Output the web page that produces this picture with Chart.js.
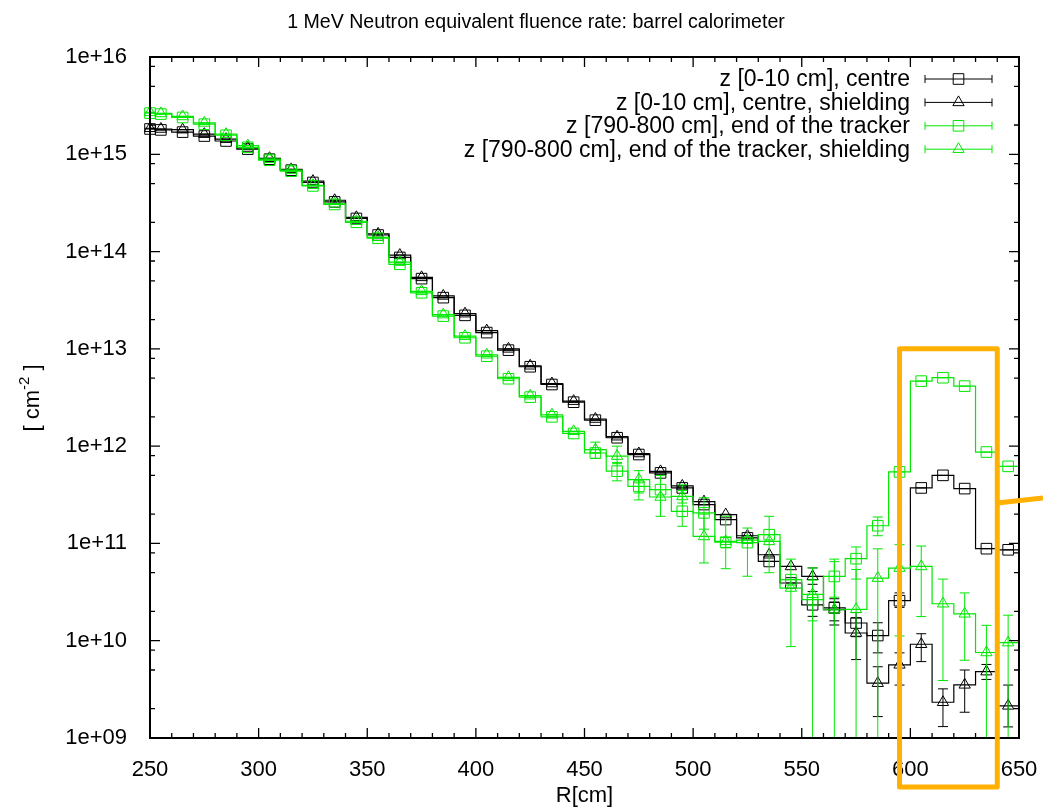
<!DOCTYPE html>
<html>
<head>
<meta charset="utf-8">
<title>1 MeV Neutron equivalent fluence rate: barrel calorimeter</title>
<script src="https://cdn.jsdelivr.net/npm/chart.js@4.4.1/dist/chart.umd.min.js"></script>
<style>
  html, body { margin: 0; padding: 0; background: #fff; }
  #plot { display: block; }
</style>
</head>
<body>
<canvas id="plot" width="1043" height="809"></canvas>
<script>
// radial bin centres [cm]
const radius = [250, 255, 265, 275, 285, 295, 305, 315, 325, 335, 345, 355, 365, 375, 385, 395,
  405, 415, 425, 435, 445, 455, 465, 475, 485, 495, 505, 515, 525, 535, 545, 555, 565, 575,
  585, 595, 605, 615, 625, 635, 645];

// fluence rate [cm^-2] per bin
const centre = [1.82e15, 1.78e15, 1.69e15, 1.54e15, 1.37e15, 1.13e15, 8.9e14, 6.87e14, 5.13e14,
  3.24e14, 2.19e14, 1.48e14, 8.7e13, 5.27e13, 3.36e13, 2.21e13, 1.47e13, 9.7e12, 6.55e12, 4.3e12,
  2.83e12, 1.85e12, 1.22e12, 8.2e11, 5.31e11, 3.72e11, 2.51e11, 1.76e11, 1.14e11, 6.53e10, 3.92e10,
  2.34e10, 2.18e10, 1.52e10, 1.13e10, 2.58e10, 3.72e11, 5.01e11, 3.66e11, 8.83e10, 8.6e10];
const centreShield = [1.85e15, 1.82e15, 1.79e15, 1.61e15, 1.43e15, 1.16e15, 9.1e14, 7.0e14, 5.3e14,
  3.37e14, 2.25e14, 1.52e14, 9.2e13, 5.43e13, 3.5e13, 2.3e13, 1.54e13, 1.0e13, 6.7e12, 4.4e12,
  2.9e12, 1.9e12, 1.25e12, 8.4e11, 5.5e11, 3.9e11, 2.69e11, 1.98e11, 1.2e11, 7.65e10, 5.8e10,
  4.58e10, 2.08e10, 1.2e10, 3.66e9, 5.65e9, 9.2e9, 2.33e9, 3.52e9, 4.81e9, 2.14e9];
const trackerEnd = [2.65e15, 2.59e15, 2.39e15, 2.04e15, 1.57e15, 1.18e15, 8.7e14, 6.7e14, 4.73e14,
  3.05e14, 2.0e14, 1.37e14, 7.4e13, 3.77e13, 2.17e13, 1.3e13, 8.4e12, 4.93e12, 3.19e12, 2.0e12,
  1.35e12, 8.5e11, 5.53e11, 3.86e11, 3.57e11, 2.14e11, 2.06e11, 1.03e11, 1.02e11, 1.23e11, 4.24e10,
  2.64e10, 4.58e10, 6.97e10, 1.52e11, 5.43e11, 4.66e12, 5.05e12, 4.14e12, 8.7e11, 6.2e11];
const trackerEndShield = [2.7e15, 2.63e15, 2.45e15, 2.1e15, 1.61e15, 1.23e15, 8.9e14, 6.87e14, 4.8e14,
  3.1e14, 2.05e14, 1.4e14, 7.8e13, 3.9e13, 2.25e13, 1.35e13, 8.7e12, 5.1e12, 3.3e12, 2.1e12,
  1.42e12, 9.2e11, 7.9e11, 4.53e11, 3.0e11, 3.04e11, 1.18e11, 1.05e11, 1.08e11, 1.05e11, 3.48e10,
  3.0e10, 2.08e10, 2.1e10, 4.4e10, 5.58e10, 5.8e10, 2.4e10, 1.89e10, 7.57e9, 9.57e9];

// error bars [low, high] by bin centre; bins not listed have errors smaller than the marker
const centreErr = {555: [1.78e10, 3.2e10], 565: [1.6e10, 2.5e10], 575: [1.1e10, 1.95e10],
  585: [7.5e9, 1.53e10], 595: [2.2e10, 3.1e10]};
const centreShieldErr = {555: [3.8e10, 5.6e10], 565: [1.45e10, 2.7e10], 575: [6.4e9, 1.71e10],
  585: [1.66e9, 5.4e9], 595: [3.5e9, 7.5e9], 605: [6.1e9, 1.18e10], 615: [1.31e9, 3.2e9],
  625: [1.84e9, 5.0e9], 635: [4.0e9, 5.7e9], 645: [1.3e9, 3.5e9]};
const trackerEndErr = {465: [4.4e11, 6.8e11], 475: [3.3e11, 4.5e11], 495: [1.5e11, 4.0e11],
  505: [1.4e11, 2.95e11], 515: [0.9e11, 1.15e11], 555: [1.6e10, 4.2e10], 565: [2.8e10, 6.9e10],
  575: [4.3e10, 9.2e10], 585: [1.2e11, 1.87e11]};
const trackerEndShieldErr = {455: [7.5e11, 1.1e12], 465: [6.6e11, 1.0e12], 475: [2.8e11, 5.6e11],
  485: [1.9e11, 5.0e11], 495: [2.6e11, 3.5e11], 505: [6.3e10, 2.0e11], 515: [5.5e10, 1.9e11],
  525: [4.6e10, 1.44e11], 535: [5.0e10, 1.9e11], 545: [8.7e9, 6.9e10], 555: [5e8, 5.6e10],
  565: [5e8, 6.5e10], 575: [5e8, 5.4e10], 585: [5e8, 8.8e10], 595: [1.12e10, 9.7e10],
  605: [1.77e10, 9.4e10], 615: [3.9e9, 4.3e10], 625: [6.3e9, 3.1e10], 635: [5e8, 1.44e10],
  645: [5e8, 1.83e10]};

const seriesLabels = [
  'z [0-10 cm], centre',
  'z [0-10 cm], centre, shielding',
  'z [790-800 cm], end of the tracker',
  'z [790-800 cm], end of the tracker, shielding'
];

const xRange = [250, 650];
const xTicks = [250, 300, 350, 400, 450, 500, 550, 600, 650];
const yDecades = [1e9, 1e10, 1e11, 1e12, 1e13, 1e14, 1e15, 1e16];
const yTickLabels = ['1e+09', '1e+10', '1e+11', '1e+12', '1e+13', '1e+14', '1e+15', '1e+16'];

const FONT = '"Liberation Sans", Arial, Helvetica, sans-serif';
const BLACK = '#000000';
const GREEN = '#00e800';
const ORANGE = '#ffb000';

// histogram steps run to the right edge of the last bin
function stepData(vals) {
  const pts = radius.map((r, i) => ({x: r, y: vals[i]}));
  pts.push({x: xRange[1], y: vals[vals.length - 1]});
  return pts;
}

function series(idx, vals, errs, color, style, r) {
  return {
    label: seriesLabels[idx],
    data: stepData(vals),
    errors: errs,
    markerSize: r,
    borderColor: color,
    borderWidth: 1.2,
    stepped: 'middle',
    fill: false,
    pointStyle: style,
    pointRadius: ctx => ctx.dataIndex < radius.length ? r : 0,
    pointBorderColor: color,
    pointBackgroundColor: 'rgba(0,0,0,0)',
    pointBorderWidth: 1,
    clip: false,
    order: 4 - idx
  };
}

const datasets = [
  series(0, centre, centreErr, BLACK, 'rect', 7.5),
  series(1, centreShield, centreShieldErr, BLACK, 'triangle', 6.5),
  series(2, trackerEnd, trackerEndErr, GREEN, 'rect', 7.5),
  series(3, trackerEndShield, trackerEndShieldErr, GREEN, 'triangle', 6.5)
];

// vertical error bars with short caps
const errorBars = {
  id: 'errorBars',
  afterDatasetDraw(chart, args) {
    const ds = chart.data.datasets[args.index];
    const {ctx, chartArea: a, scales: {y}} = chart;
    const cap = 5;
    ctx.save();
    ctx.beginPath();
    ctx.rect(a.left - 6, a.top, a.width + 12, a.height);
    ctx.clip();
    ctx.strokeStyle = ds.borderColor;
    ctx.lineWidth = 1;
    ctx.beginPath();
    radius.forEach((r, i) => {
      const pt = args.meta.data[i];
      const e = ds.errors[r];
      if (e) {
        const lo = y.getPixelForValue(e[0]);
        const hi = y.getPixelForValue(e[1]);
        ctx.moveTo(pt.x, lo); ctx.lineTo(pt.x, hi);
        ctx.moveTo(pt.x - cap, lo); ctx.lineTo(pt.x + cap, lo);
        ctx.moveTo(pt.x - cap, hi); ctx.lineTo(pt.x + cap, hi);
      } else {
        ctx.moveTo(pt.x - cap, pt.y); ctx.lineTo(pt.x + cap, pt.y);
      }
    });
    ctx.stroke();
    ctx.restore();
  }
};

// border with inward ticks on all four sides
const frame = {
  id: 'frame',
  afterDatasetsDraw(chart) {
    const {ctx, chartArea: a, scales: {x, y}} = chart;
    ctx.save();
    ctx.strokeStyle = BLACK;
    ctx.lineWidth = 1.3;
    ctx.beginPath();
    for (let v = xRange[0]; v <= xRange[1]; v += 10) {
      const px = x.getPixelForValue(v);
      const len = v % 50 === 0 ? 10 : 5;
      ctx.moveTo(px, a.bottom); ctx.lineTo(px, a.bottom - len);
      ctx.moveTo(px, a.top); ctx.lineTo(px, a.top + len);
    }
    yDecades.forEach(d => {
      [1, 2, 5, 8].forEach(m => {
        const v = d * m;
        if (v > yDecades[yDecades.length - 1]) return;
        const py = y.getPixelForValue(v);
        const len = m === 1 ? 10 : 5;
        ctx.moveTo(a.left, py); ctx.lineTo(a.left + len, py);
        ctx.moveTo(a.right, py); ctx.lineTo(a.right - len, py);
      });
    });
    ctx.stroke();
    ctx.lineWidth = 2;
    ctx.strokeRect(a.left, a.top, a.width, a.height);
    ctx.restore();
  }
};

// key in the upper right corner: label, then a sample bar with its marker
const key = {
  id: 'key',
  afterDatasetsDraw(chart) {
    const {ctx, chartArea: a} = chart;
    ctx.save();
    ctx.font = '23px ' + FONT;
    ctx.textAlign = 'right';
    ctx.textBaseline = 'middle';
    chart.data.datasets.forEach((ds, i) => {
      const yy = a.top + 22 + i * 23.4;
      const x0 = a.right - 94, x1 = a.right - 27;
      ctx.fillStyle = BLACK;
      ctx.fillText(ds.label, a.right - 109, yy + 1);
      ctx.strokeStyle = ds.borderColor;
      ctx.lineWidth = 1;
      ctx.beginPath();
      ctx.moveTo(x0, yy); ctx.lineTo(x1, yy);
      ctx.moveTo(x0, yy - 4); ctx.lineTo(x0, yy + 4);
      ctx.moveTo(x1, yy - 4); ctx.lineTo(x1, yy + 4);
      ctx.stroke();
      ctx.fillStyle = 'rgba(0,0,0,0)';
      Chart.helpers.drawPoint(ctx, {
        pointStyle: ds.pointStyle,
        radius: ds.markerSize,
        rotation: 0,
        borderWidth: 1
      }, (x0 + x1) / 2, yy);
    });
    ctx.restore();
  }
};

// chart title and the rotated y-axis label with its superscript
const labels = {
  id: 'labels',
  afterDraw(chart) {
    const {ctx} = chart;
    ctx.save();
    ctx.fillStyle = BLACK;
    ctx.font = '19.6px ' + FONT;
    ctx.textAlign = 'center';
    ctx.textBaseline = 'middle';
    ctx.fillText('1 MeV Neutron equivalent fluence rate: barrel calorimeter', 536, 23);

    ctx.translate(31, 398);
    ctx.rotate(-Math.PI / 2);
    ctx.textAlign = 'left';
    ctx.textBaseline = 'alphabetic';
    const big = '22px ' + FONT, small = '15px ' + FONT;
    ctx.font = big;
    const w1 = ctx.measureText('[ cm').width, w3 = ctx.measureText(' ]').width;
    ctx.font = small;
    const w2 = ctx.measureText('-2').width;
    let px = -(w1 + w2 + w3) / 2;
    ctx.font = big;
    ctx.fillText('[ cm', px, 8);
    px += w1;
    ctx.font = small;
    ctx.fillText('-2', px, -2);
    px += w2;
    ctx.font = big;
    ctx.fillText(' ]', px, 8);
    ctx.restore();
  }
};

// orange highlight round the 600-640 cm region, with a pointer to the right edge
const highlight = {
  id: 'highlight',
  afterDraw(chart) {
    const {ctx, chartArea: a, scales: {x, y}, width} = chart;
    const left = x.getPixelForValue(595), right = x.getPixelForValue(640);
    const top = y.getPixelForValue(1e13), bottom = a.bottom + 49;
    const arm = y.getPixelForValue(2.6e11);
    ctx.save();
    ctx.strokeStyle = ORANGE;
    ctx.lineWidth = 5;
    ctx.lineJoin = 'round';
    ctx.strokeRect(left, top, right - left, bottom - top);
    ctx.beginPath();
    ctx.moveTo(right, arm);
    ctx.lineTo(width, arm - 5);
    ctx.stroke();
    ctx.restore();
  }
};

new Chart(document.getElementById('plot'), {
  type: 'line',
  data: {datasets},
  options: {
    responsive: false,
    animation: false,
    devicePixelRatio: 1,
    layout: {padding: {top: 57, right: 24, left: 0, bottom: 0}},
    plugins: {legend: {display: false}, title: {display: false}, tooltip: {enabled: false}},
    events: [],
    scales: {
      x: {
        type: 'linear',
        min: xRange[0],
        max: xRange[1],
        afterBuildTicks: s => { s.ticks = xTicks.map(v => ({value: v})); },
        afterFit: s => { s.height = 71; s.paddingLeft = 0; s.paddingRight = 0; },
        grid: {display: false},
        border: {display: false},
        ticks: {font: {family: FONT, size: 22}, color: BLACK, padding: 11, autoSkip: false, maxRotation: 0},
        title: {display: true, text: 'R[cm]', font: {family: FONT, size: 22}, color: BLACK, padding: {top: 0, bottom: 0}}
      },
      y: {
        type: 'logarithmic',
        min: yDecades[0],
        max: yDecades[yDecades.length - 1],
        afterBuildTicks: s => { s.ticks = yDecades.map(v => ({value: v})); },
        afterFit: s => { s.width = 150; s.paddingTop = 0; s.paddingBottom = 0; },
        grid: {display: false},
        border: {display: false},
        ticks: {
          font: {family: FONT, size: 22},
          color: BLACK,
          padding: 15,
          autoSkip: false,
          callback: v => yTickLabels[yDecades.indexOf(v)]
        }
      }
    }
  },
  plugins: [errorBars, frame, key, labels, highlight]
});
</script>
</body>
</html>
